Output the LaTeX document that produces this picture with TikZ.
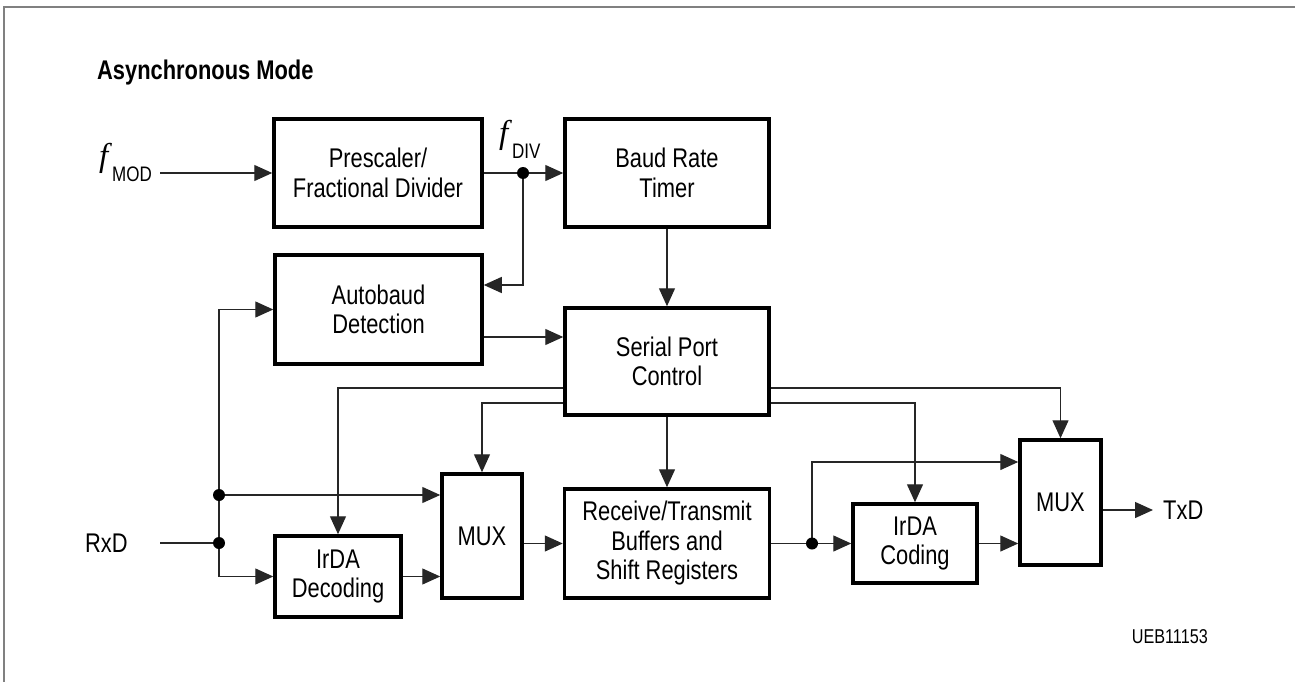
\documentclass[tikz,border=0pt]{standalone}
\usepackage{fontspec}
\setmainfont{Liberation Sans}[FakeStretch=0.81]
\newfontfamily\serifit{Liberation Serif}
\usetikzlibrary{arrows.meta,calc}
\begin{document}
\begin{tikzpicture}[x=1pt,y=-1pt,
  blk/.style={draw,line width=3.5pt,inner sep=0pt,align=center,
    font=\fontsize{27}{29.5}\selectfont},
  con/.style={line width=1.3pt,draw=black!85},
  arr/.style={con,-{Triangle[length=18pt,width=16pt]}},
  lbl/.style={inner sep=0pt,font=\fontsize{27}{29}\selectfont},
  sub/.style={inner sep=0pt,font=\fontsize{21}{22}\selectfont},
  ital/.style={inner sep=0pt,font=\fontsize{33}{34}\serifit\itshape},
  dot/.style={circle,fill=black,inner sep=0pt,minimum size=12pt}]
\useasboundingbox (0,0) rectangle (1295,682);
% frame
\draw[gray,line width=2pt] (1295,7.5) -- (4,7.5) -- (4,682);
% title
\node[anchor=west,inner sep=0pt,font=\fontsize{27}{29}\selectfont\bfseries] (title) at (97,73) {Asynchronous Mode};
% blocks
\node[blk,minimum width=208pt,minimum height=108pt] (pre) at (378,173) {Prescaler/\\Fractional Divider};
\node[blk,minimum width=204pt,minimum height=108pt] (baud) at (667,173) {Baud Rate\\Timer};
\node[blk,minimum width=207pt,minimum height=109pt] (auto) at (378.5,309.5) {Autobaud\\Detection};
\node[blk,minimum width=204pt,minimum height=107pt] (spc) at (667,361.5) {Serial Port\\Control};
\node[blk,minimum width=126pt,minimum height=81pt] (irdec) at (338,576.5) {IrDA\\Decoding};
\node[blk,minimum width=80pt,minimum height=124pt] (mux1) at (482,536) {MUX};
\node[blk,minimum width=205pt,minimum height=109pt] (rt) at (667,543.5) {Receive/Transmit\\Buffers and\\Shift Registers};
\node[blk,minimum width=124pt,minimum height=79pt] (ircod) at (915,543.5) {IrDA\\Coding};
\node[blk,minimum width=81pt,minimum height=125pt] (mux2) at (1060.5,502.5) {MUX};
% labels
\node[ital,anchor=base west] (fm) at (99,166) {f};
\node[sub,anchor=base west] (fmsub) at (112,181) {MOD};
\node[ital,anchor=base west] (fd) at (499,143) {f};
\node[sub,anchor=base west] (fdsub) at (512,158) {DIV};
\node[lbl,anchor=west] (rxdl) at (85,543) {RxD};
\node[lbl,anchor=west] (txdl) at (1163,510) {TxD};
\node[anchor=east,inner sep=0pt,font=\fontsize{20}{21}\selectfont] (ueb) at (1208,637) {UEB11153};
% coordinates
\coordinate (fmod) at (160,173);
\coordinate (rxd) at (160,543);
\coordinate (d1) at (523,173);
\coordinate (d2) at (219,543);
\coordinate (d3) at (219,495);
\coordinate (d4) at (812,543.5);
\coordinate (txd) at (1153,510);
% connectors
\draw[arr] (fmod) -- (pre.west);
\draw[arr] (pre.east) -- (baud.west);
\draw[arr] (d1) |- ($(auto.east)+(0,-24.5)$);
\draw[arr] (baud.south) -- (spc.north);
\draw[arr] ($(auto.east)+(0,27.5)$) coordinate (t1) -- (t1 -| spc.west);
\draw[con] (rxd) -- (d2);
\draw[arr] (d2) |- (irdec.west);
\draw[con] (d2) -- (d3);
\draw[arr] (d3) |- (auto.west);
\draw[arr] (d3) -- (d3 -| mux1.west);
\draw[arr] (irdec.east) -- (irdec.east -| mux1.west);
\draw[arr] (rt.west -| mux1.east) -- (rt.west);
\draw[arr] ($(spc.west)+(0,26.5)$) -| (irdec.north);
\draw[arr] ($(spc.west)+(0,41.5)$) -| (mux1.north);
\draw[arr] (spc.south) -- (rt.north);
\draw[arr] (rt.east) -- (ircod.west);
\draw[arr] (d4) |- ($(mux2.west)+(0,-40.5)$);
\draw[arr] (ircod.east) -- (ircod.east -| mux2.west);
\draw[arr] ($(spc.east)+(0,26.5)$) -| (mux2.north);
\draw[arr] ($(spc.east)+(0,41.5)$) -| (ircod.north);
\draw[arr] (txd -| mux2.east) -- (txd);
% junction dots
\node[dot] (j1) at (d1) {};
\node[dot] (j2) at (d2) {};
\node[dot] (j3) at (d3) {};
\node[dot] (j4) at (d4) {};
\end{tikzpicture}
\end{document}
